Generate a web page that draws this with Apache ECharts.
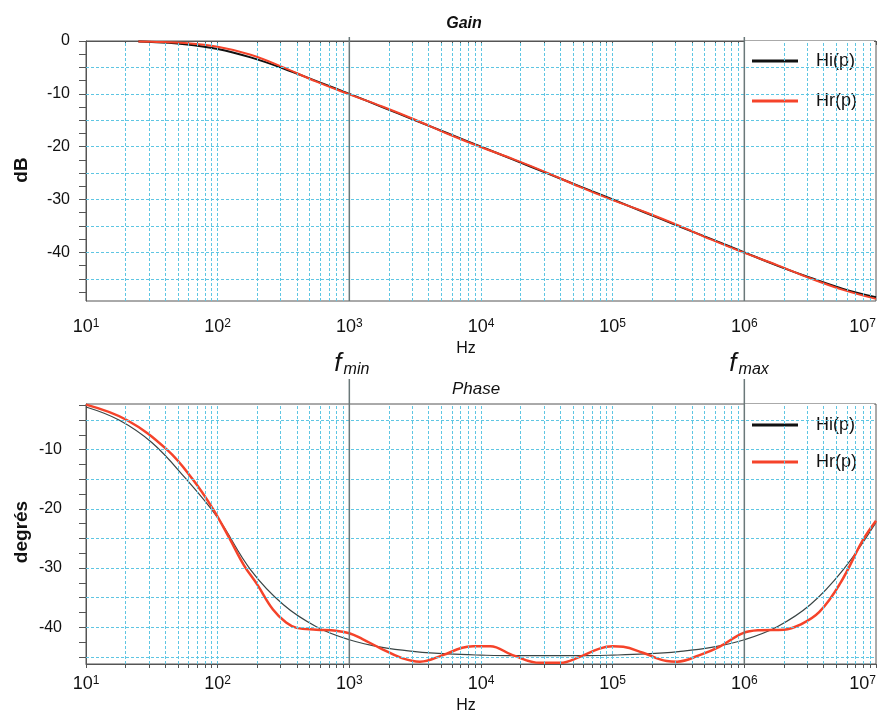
<!DOCTYPE html>
<html><head><meta charset="utf-8">
<script src="https://cdn.jsdelivr.net/npm/echarts@6/dist/echarts.min.js"></script>
<style>html,body{margin:0;padding:0;background:#fff}#c{width:881px;height:715px}</style>
</head><body><div id="c"></div>
<script>
// ---- data ----
const gainFreq = [25, 31.6, 56.2, 100, 178, 316, 562, 1000, 1778, 3162, 5623, 10000, 17783, 31623, 56234, 100000, 177828, 316228, 562341, 1000000, 1778279, 3162278, 5623413, 10000000];
const gainHi   = [-0.1, -0.2, -0.6, -1.5, -3.1, -5.2, -7.6, -10.0, -12.5, -15.0, -17.5, -20.0, -22.5, -25.0, -27.5, -30.0, -32.5, -35.0, -37.5, -40.0, -42.5, -44.8, -46.9, -48.5];
const gainHr   = [-0.1, -0.15, -0.4, -1.1, -2.6, -5.0, -7.7, -10.1, -12.4, -14.9, -17.6, -20.1, -22.4, -24.9, -27.6, -30.1, -32.4, -34.9, -37.6, -40.1, -42.4, -44.9, -47.1, -48.8];

const phaseHiFreq = [10, 17.8, 31.6, 56.2, 100, 178, 316, 562, 1000, 1778, 3162, 5623, 10000, 17783, 31623, 56234, 100000, 177828, 316228, 562341, 1000000, 1778279, 3162278, 5623413, 10000000];
const phaseHi     = [-2.8, -5.0, -8.8, -14.7, -21.5, -30.3, -36.2, -39.9, -42.1, -43.4, -44.1, -44.5, -44.7, -44.8, -44.8, -44.8, -44.7, -44.5, -44.1, -43.4, -42.1, -39.9, -36.2, -30.3, -22.3];

const phaseHrFreq = [10, 20.4, 41.2, 64.6, 92, 123, 158, 200, 263, 331, 398, 562, 794, 1000, 1259, 1710, 2512, 3440, 5130, 7080, 8710, 11750, 17380, 28180, 39810, 56230, 79430, 100000, 120230, 169820, 257040, 309030, 457090, 645650, 977240, 1318260, 1995260, 2630270, 3715350, 5370320, 7943280, 10000000];
const phaseHr     = [-2.4, -5.0, -10.0, -15.0, -20.0, -25.0, -29.5, -32.8, -37.0, -39.2, -40.1, -40.4, -40.6, -41.0, -42.0, -43.5, -45.2, -45.8, -44.7, -43.5, -43.2, -43.2, -44.7, -46.0, -46.0, -45.0, -43.6, -43.2, -43.3, -44.3, -45.7, -45.8, -44.7, -43.3, -41.0, -40.5, -40.4, -39.6, -37.4, -32.5, -25.3, -22.0];

const gainLabels  = [0, -10, -20, -30, -40];
const gainTicks   = [0, -2.5, -5, -7.5, -10, -12.5, -15, -17.5, -20, -22.5, -25, -27.5, -30, -32.5, -35, -37.5, -40, -42.5, -45, -47.5];
const gainGrid    = [-5, -10, -15, -20, -25, -30, -35, -40, -45];
const phaseLabels = [-10, -20, -30, -40];
const phaseTicks  = [-2.5, -5, -7.5, -10, -12.5, -15, -17.5, -20, -22.5, -25, -27.5, -30, -32.5, -35, -37.5, -40, -42.5, -45];
const phaseGrid   = [-5, -10, -15, -20, -25, -30, -35, -40, -45];
const markerFreqs = [1000, 1000000];
const markerNames = ['min', 'max'];

// ---- log grid lines (2..9 of each decade + decades) ----
const logLines = [];
for (let n = 1; n <= 6; n++) for (let k = 1; k <= 9; k++) { const v = k * Math.pow(10, n); if (v > 10 && v < 1e7) logLines.push(v); }

const FONT = 'Liberation Sans, Arial, sans-serif';
const GRIDC = '#5fc6e3';
const RED = '#f5432a';
const AX = '#555';
const zip = (a, b) => a.map((x, i) => [x, b[i]]);

function xAxis(gi, margin) {
  return {
    type: 'log', logBase: 10, gridIndex: gi, min: 10, max: 10000000,
    axisLine: { show: true, lineStyle: { color: AX, width: 1 } },
    axisTick: { show: true, length: 4, lineStyle: { color: AX }, customValues: logLines.concat([10, 10000000]) },
    splitLine: { show: false },
    axisLabel: {
      margin: margin, color: '#111', fontFamily: FONT, alignMaxLabel: 'right',
      formatter: v => '{b|10}{s|' + Math.round(Math.log10(v)) + '}',
      rich: { b: { fontSize: 18, fontFamily: FONT, color: '#111' }, s: { fontSize: 12, fontFamily: FONT, color: '#111', padding: [0, 0, 7, 0] } }
    }
  };
}
function yAxis(gi, min, max, labels, ticks, margin) {
  return {
    type: 'value', gridIndex: gi, min: min, max: max,
    axisLine: { show: true, lineStyle: { color: AX } },
    axisTick: { show: true, length: 7, lineStyle: { color: AX }, customValues: ticks },
    axisLabel: { margin: margin, fontSize: 16, fontFamily: FONT, color: '#111', customValues: labels },
    splitLine: { show: false }
  };
}
function gridSeries(gi, yVals) {
  return {
    type: 'line', xAxisIndex: gi, yAxisIndex: gi, data: [], silent: true, z: 1,
    markLine: {
      silent: true, symbol: 'none', animation: false, label: { show: false },
      lineStyle: { color: GRIDC, type: [3, 2], width: 1 },
      emphasis: { disabled: true },
      data: logLines.map(v => ({ xAxis: v })).concat(yVals.map(v => ({ yAxis: v })))
    }
  };
}
function legend(top, padTop, gap) {
  const item = (name, c) => ({ name: name, icon: 'path://M0,0H46V3H0Z', itemStyle: { color: c, borderWidth: 0, opacity: 1 }, lineStyle: { color: c, width: 0, type: 'solid', opacity: 0 } });
  return {
    data: [item('Hi(p)', '#111'), item('Hr(p)', RED)], orient: 'vertical', left: 745, top: top,
    backgroundColor: '#fff', padding: [padTop, 17, 2, 7], itemGap: gap,
    itemWidth: 46, itemHeight: 3,
    textStyle: { fontSize: 18, fontFamily: FONT, color: '#111', padding: [0, 0, 0, 13] },
    selectedMode: false
  };
}

const chart = echarts.init(document.getElementById('c'), null, { renderer: 'canvas' });
const option = {
  animation: false,
  backgroundColor: '#fff',
  title: [
    { text: 'Gain', left: 459, top: 11, textAlign: 'center', textStyle: { fontSize: 16, fontStyle: 'italic', fontWeight: 'bold', fontFamily: FONT, color: '#111' } },
    { text: 'Phase', left: 471, top: 376, textAlign: 'center', textStyle: { fontSize: 17, fontStyle: 'italic', fontWeight: 'normal', fontFamily: FONT, color: '#111' } }
  ],
  legend: [legend(41, 11, 22), legend(404, 12, 19)],
  grid: [
    { left: 86, right: 5, top: 41, height: 260, show: true, borderColor: AX, borderWidth: 1 },
    { left: 86, right: 5, top: 404, height: 260, show: true, borderColor: AX, borderWidth: 1 }
  ],
  xAxis: [xAxis(0, 17), xAxis(1, 11)],
  yAxis: [yAxis(0, -49.2, 0, gainLabels, gainTicks, 16), yAxis(1, -46.2, -2.3, phaseLabels, phaseTicks, 24)],
  series: [
    gridSeries(0, gainGrid),
    gridSeries(1, phaseGrid),
    { name: 'Hi(p)', type: 'line', xAxisIndex: 0, yAxisIndex: 0, data: zip(gainFreq, gainHi), smooth: 0.4, showSymbol: false, color: '#111', lineStyle: { width: 2, color: '#111' }, z: 3 },
    { name: 'Hr(p)', type: 'line', xAxisIndex: 0, yAxisIndex: 0, data: zip(gainFreq, gainHr), smooth: 0.4, showSymbol: false, color: RED, lineStyle: { width: 2, color: RED }, z: 4 },
    { name: 'Hi(p)', type: 'line', xAxisIndex: 1, yAxisIndex: 1, data: zip(phaseHiFreq, phaseHi), smooth: 0.4, showSymbol: false, color: '#111', lineStyle: { width: 1.2, color: '#3a4545' }, z: 3 },
    { name: 'Hr(p)', type: 'line', xAxisIndex: 1, yAxisIndex: 1, data: zip(phaseHrFreq, phaseHr), smooth: 0.4, showSymbol: false, color: RED, lineStyle: { width: 2.5, color: RED }, z: 4 }
  ]
};
chart.setOption(option);

// annotations placed through the library's scales
const gr = [];
const txt = (text, x, y, font) => ({ type: 'text', z: 10, style: { text: text, x: x, y: y, font: font, fill: '#111', textAlign: 'center', textVerticalAlign: 'middle' } });
markerFreqs.forEach((f, i) => {
  const t0 = chart.convertToPixel({ xAxisIndex: 0, yAxisIndex: 0 }, [f, 0]);
  const b0 = chart.convertToPixel({ xAxisIndex: 0, yAxisIndex: 0 }, [f, -49.2]);
  const t1 = chart.convertToPixel({ xAxisIndex: 1, yAxisIndex: 1 }, [f, -2.3]);
  const b1 = chart.convertToPixel({ xAxisIndex: 1, yAxisIndex: 1 }, [f, -46.2]);
  const ls = { stroke: '#6a7879', lineWidth: 1.5 };
  gr.push({ type: 'line', z: 6, shape: { x1: t0[0], y1: t0[1] - 4, x2: b0[0], y2: b0[1] }, style: ls });
  gr.push({ type: 'line', z: 6, shape: { x1: t1[0], y1: t1[1] - 25, x2: b1[0], y2: b1[1] }, style: ls });
  gr.push({
    type: 'text', z: 10,
    style: {
      text: '{f|f}{s|' + markerNames[i] + '}', x: t1[0] - 15, y: 364, textAlign: 'left', textVerticalAlign: 'middle',
      rich: {
        f: { fontSize: 26, fontStyle: 'italic', fontFamily: FONT, fill: '#111' },
        s: { fontSize: 16, fontStyle: 'italic', fontFamily: FONT, fill: '#111', padding: [11, 0, 0, 2] }
      }
    }
  });
});
gr.push(txt('Hz', 466, 349, '16px ' + FONT));
gr.push(txt('Hz', 466, 706, '16px ' + FONT));
gr.push(Object.assign(txt('dB', 0, 0, 'bold 19px ' + FONT), { x: 22, y: 170, rotation: Math.PI / 2 }));
gr.push(Object.assign(txt('degrés', 0, 0, 'bold 19px ' + FONT), { x: 22, y: 532, rotation: Math.PI / 2 }));
chart.setOption({ graphic: gr });
</script></body></html>
